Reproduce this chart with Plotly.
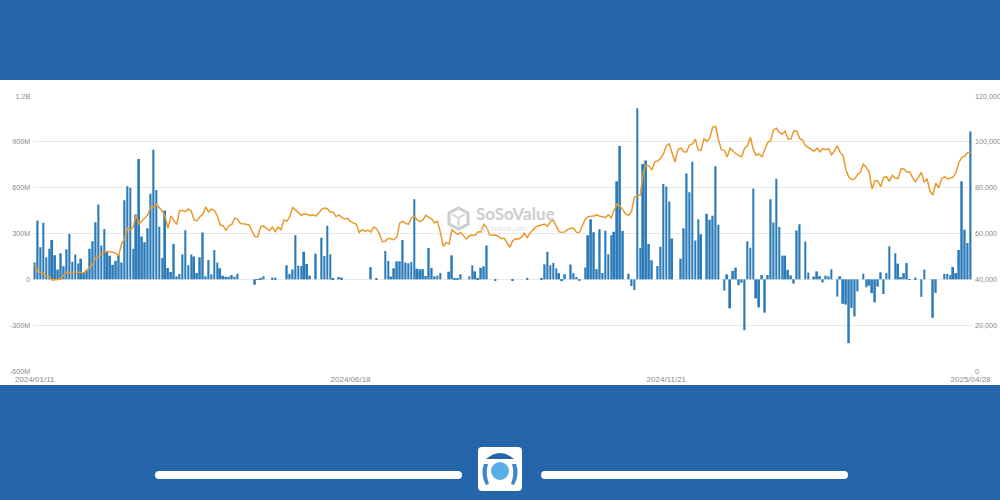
import plotly.graph_objects as go

W, H = 1000, 500

# daily net inflow, in millions of USD
flows_1 = [110, 385, 210, 370, 145, 200, 258, 158, 65, 170, 85, 197, 297, 115, 162, 103, 135, 45, 58, 200,
           250, 373, 490, 222, 330, 180, 155, 95, 122, 160, 110, 517, 610, 600, 200, 425, 787, 280, 242, 335,
           560, 848, 585, 345, 140, 450, 75, 48, 232, 18, 35, 162, 322, 92, 163, 150, 42, 145, 307, 20,
           127, 33, 192, 110, 72, 24, 17, 17, 28, 17, 37, 0, 0, 0, 0, 0, -35, -2, 10, 20,
           0, 0, 12, 12, 0, 0, 0, 92, 36, 65, 288, 90, 87, 180, 100, 24, 0, 168, 0, 273,
           153, 350, 165, 5, 0, 15]
flows_2 = [12, 0, 0, 0, 0, 0, 0, 0, 0, 0, 80, 0, 8, 0, 0, 185, 120, 18, 72, 118,
           118, 257, 110, 105, 113, 525, 70, 65, 67, 22, 205, 75, 20, 24, 42, 0, 0, 50, 157, 8,
           8, 33, 0, 0, 20, 92, 52, 5, 75, 85, 222, 0, 0, -8, 0, 0, 0, 0, 0, -7,
           0, 0, 0, 0, 10, 0, 0, 0, 0, 5, 98, 180, 92, 108, 72, 40, -12, 33, 0, 97,
           40, 15, -8, 0, 78, 288, 393, 308, 67, 328, 42, 318, 165, 288, 312, 642, 872, 317, 0, 37,
           -44, -70, 1120, 205, 755, 778, 232, 125, 0, 87, 214, 624, 607, 510]
flows_3 = [267, 0, 0, 135, 335, 692, 570, 770, 255, 393, 295, 0, 430, 390, 417, 740, 358, 0, -74, 32,
           -190, 55, 77, -38, -22, -333, 250, 207, 595, -125, -184, 28, -218, 28, 525, 372, 658, 343, 155, 155,
           62, 26, -28, 320, 360, 0, 248, 44, 0, 18, 52, 22, -20, 24, 20, 65, 0, -113, 20, -160,
           -165, -418, -187, -243, -78, 0, 37, -52, -42, -90, -150, -48, 46, -96, 42, 216, 0, 170, 103, 15,
           40, 107, 2, 0, 12, 0, -115, 64, 0, 0, -252, -88, 0, 0, 36, 36, 28, 80, 41, 192,
           642, 325, 238, 968]

# BTC price, USD
btc_1 = [46500, 43300, 43100, 42600, 41600, 41200, 39600, 39700, 40000, 40100, 41900, 43200, 42900, 42800, 43200,
         43100, 42800, 42900, 44100, 45200, 46500, 49500, 50000, 50900, 52100, 52200, 52100, 51800, 51200, 50500,
         55700, 57500, 62300, 61500, 63000, 68100, 64100, 65600, 66800, 68100, 71700, 71700, 72700, 71000, 69800,
         67300, 62300, 67600, 65900, 64000, 70000, 70000, 69500, 70700, 69800, 65900, 65500, 67300, 68400, 71600,
         69400, 70700, 70000, 67800, 63700, 63400, 61400, 63400, 64000, 66800, 66200, 64400, 64300, 63900, 63700,
         61100, 58600, 58600, 63000, 63300, 62300, 61200, 62800, 60800, 62800, 61700, 66000, 65300, 67300, 71300,
         70300, 69100, 67900, 68500, 68400, 67800, 68200, 67600, 68800, 70500, 71100, 70800, 69400, 69400, 67300,
         68100]
btc_2 = [66900, 66300, 66600, 65200, 64700, 64000, 60500, 61700, 60900, 61500, 60700, 62800, 62000, 59800, 56400,
         56600, 57900, 57500, 57300, 58600, 64600, 65300, 64400, 64000, 66800, 67500, 65900, 65200, 65900, 67900,
         66900, 66300, 64700, 65300, 60500, 54300, 56100, 55400, 61700, 60400, 59500, 60400, 58800, 57600, 58900,
         59300, 59100, 60800, 60700, 64000, 62800, 59300, 59200, 59300, 58800, 57700, 58000, 56000, 54000, 56900,
         57700, 57600, 58300, 60200, 58200, 60200, 61700, 63000, 63400, 63600, 64100, 63100, 65300, 65700, 63000,
         60700, 60500, 60700, 61800, 62300, 62300, 60500, 60400, 63000, 66200, 67300, 67500, 67600, 68200, 67500,
         67300, 66900, 68200, 66800, 70400, 72900, 72000, 70100, 68500, 67900, 69700, 75900, 76500, 76800, 86500,
         89900, 89500, 87700, 91300, 91600, 92800, 94700, 98300, 99100]
btc_3 = [95000, 91200, 96600, 97300, 95700, 95600, 98600, 99100, 101200, 96400, 96300, 101400, 100200, 101700, 106300,
         106800, 100800, 96600, 96300, 93400, 97200, 95700, 94700, 94100, 93500, 97200, 98300, 102000, 96700, 94100,
         94700, 93500, 96400, 99800, 100500, 105200, 105900, 104100, 103300, 104700, 101200, 101200, 104700, 104700, 101500,
         100800, 98300, 97300, 96700, 95900, 97200, 95600, 97000, 96600, 97000, 94300, 96000, 98300, 95400, 94000,
         87700, 84500, 83500, 83800, 85700, 86800, 90300, 88900, 86800, 79400, 83100, 82900, 80400, 84500, 84700,
         82800, 85400, 84200, 83900, 88100, 88100, 86800, 86800, 84400, 82600, 84500, 86700, 82300, 83900, 78400,
         76800, 82000, 79900, 83800, 84800, 83900, 84100, 84700, 86700, 91100, 93200, 93700, 95300, 95300]

flows = flows_1 + flows_2 + flows_3
btc = btc_1 + btc_2 + btc_3
days = list(range(len(flows)))

date_labels = ["2024/01/11", "2024/06/18", "2024/11/21", "2025/04/28"]
date_ticks = [0, 109, 218, len(flows) - 1]
flow_ticks = [-600, -300, 0, 300, 600, 900, 1200]
flow_labels = ["-600M", "-300M", "0", "300M", "600M", "900M", "1.2B"]
price_ticks = [0, 20000, 40000, 60000, 80000, 100000, 120000]
price_labels = ["0", "20,000", "40,000", "60,000", "80,000", "100,000", "120,000"]

BLUE = "#2566AB"


def px(x):
    return x / W


def py(y):
    return 1 - y / H


# path in page pixels -> paper coordinates
def path(points, close=True):
    parts = []
    for cmd, *xy in points:
        coords = [f"{px(xy[i]):.5f},{py(xy[i + 1]):.5f}" for i in range(0, len(xy), 2)]
        parts.append(cmd + " " + " ".join(coords))
    return " ".join(parts) + (" Z" if close else "")


def round_rect(x0, y0, x1, y1, r, color, layer="above"):
    return dict(type="path", xref="paper", yref="paper", layer=layer, fillcolor=color, line_width=0,
                path=path([("M", x0 + r, y0), ("L", x1 - r, y0), ("Q", x1, y0, x1, y0 + r),
                           ("L", x1, y1 - r), ("Q", x1, y1, x1 - r, y1), ("L", x0 + r, y1),
                           ("Q", x0, y1, x0, y1 - r), ("L", x0, y0 + r), ("Q", x0, y0, x0 + r, y0)]))


shapes = [
    # white card behind the chart
    dict(type="rect", xref="paper", yref="paper", layer="below", x0=0, x1=1, y0=py(385), y1=py(80),
         fillcolor="white", line_width=0),
    # slider at the bottom
    round_rect(155, 471, 462, 479, 4, "white"),
    round_rect(541, 471, 848, 479, 4, "white"),
    round_rect(478, 447, 522, 491, 4, "white"),
    # icon: top cap, side arcs, centre dot
    dict(type="path", xref="paper", yref="paper", fillcolor=BLUE, line_width=0,
         path=path([("M", 486, 459), ("Q", 500, 447, 514, 459), ("L", 486, 459)])),
    dict(type="path", xref="paper", yref="paper", fillcolor="#3A86C8", line_width=0,
         path=path([("M", 484, 464), ("L", 488, 464), ("Q", 485, 473, 489, 484), ("L", 486, 485), ("Q", 480, 474, 484, 464)])),
    dict(type="path", xref="paper", yref="paper", fillcolor="#3A86C8", line_width=0,
         path=path([("M", 516, 464), ("L", 512, 464), ("Q", 515, 473, 511, 484), ("L", 514, 485), ("Q", 520, 474, 516, 464)])),
    dict(type="circle", xref="paper", yref="paper", x0=px(491), x1=px(509), y0=py(480), y1=py(462),
         fillcolor="#5AAEE6", line_width=0),
    # watermark cube: hexagon outline and inner strokes
    dict(type="path", xref="paper", yref="paper", layer="below", fillcolor="rgba(0,0,0,0)",
         line=dict(color="#CDCDCD", width=3),
         path=path([("M", 458.5, 208), ("L", 468, 213), ("L", 468, 224), ("L", 458.5, 229), ("L", 449, 224), ("L", 449, 213), ("L", 458.5, 208)])),
    dict(type="path", xref="paper", yref="paper", layer="below", fillcolor="rgba(0,0,0,0)",
         line=dict(color="#D4D4D4", width=2),
         path=path([("M", 452, 214), ("L", 458.5, 218), ("L", 465, 214), ("M", 458.5, 218), ("L", 458.5, 226)], close=False)),
]

annotations = [
    dict(text="<b>SoSoValue</b>", x=px(515), y=py(214), xref="paper", yref="paper", showarrow=False,
         font=dict(family="Lato", size=17, color="#CDCDCD")),
    dict(text="sosovalue.com", x=px(503), y=py(229), xref="paper", yref="paper", showarrow=False,
         font=dict(family="Open Sans", size=7, color="#DDDDDD")),
]

fig = go.Figure()

fig.add_trace(go.Bar(x=days, y=flows, marker_color="#2B7BB9", marker_line_width=0, name="Net Inflow", yaxis="y"))
fig.add_trace(go.Scatter(x=days, y=btc, mode="lines", line=dict(color="#E99A2E", width=1.5), name="BTC Price", yaxis="y2"))

tick_font = dict(family="Liberation Sans", size=8, color="#8A8A8A")
side_font = dict(family="Liberation Sans", size=7.2, color="#8A8A8A")

fig.update_layout(
    width=W,
    height=H,
    autosize=False,
    margin=dict(l=0, r=0, t=0, b=0, autoexpand=False),
    paper_bgcolor=BLUE,
    plot_bgcolor="rgba(0,0,0,0)",
    showlegend=False,
    bargap=0.38,
    shapes=shapes,
    annotations=annotations,
    xaxis=dict(domain=[px(33.3), px(972)], range=[-0.5, len(flows) - 0.5], tickmode="array", tickvals=date_ticks,
               ticktext=date_labels, tickfont=tick_font, showgrid=False, zeroline=False, ticks="", anchor="y",
               automargin=False, ticklabelstandoff=2),
    yaxis=dict(domain=[py(371), py(96)], range=[-600, 1200], tickmode="array", tickvals=flow_ticks,
               ticktext=flow_labels, tickfont=side_font, gridcolor="#E9E9E9", gridwidth=1, zeroline=False,
               automargin=False, ticklabelstandoff=2),
    yaxis2=dict(domain=[py(371), py(96)], range=[0, 120000], overlaying="y", side="right", tickmode="array",
                tickvals=price_ticks, ticktext=price_labels, tickfont=side_font, showgrid=False, zeroline=False,
                automargin=False, ticklabelstandoff=2),
)

fig.write_html("out.html", config=dict(displayModeBar=False),
               post_script="document.body.style.margin='0';document.body.style.overflow='hidden';")
